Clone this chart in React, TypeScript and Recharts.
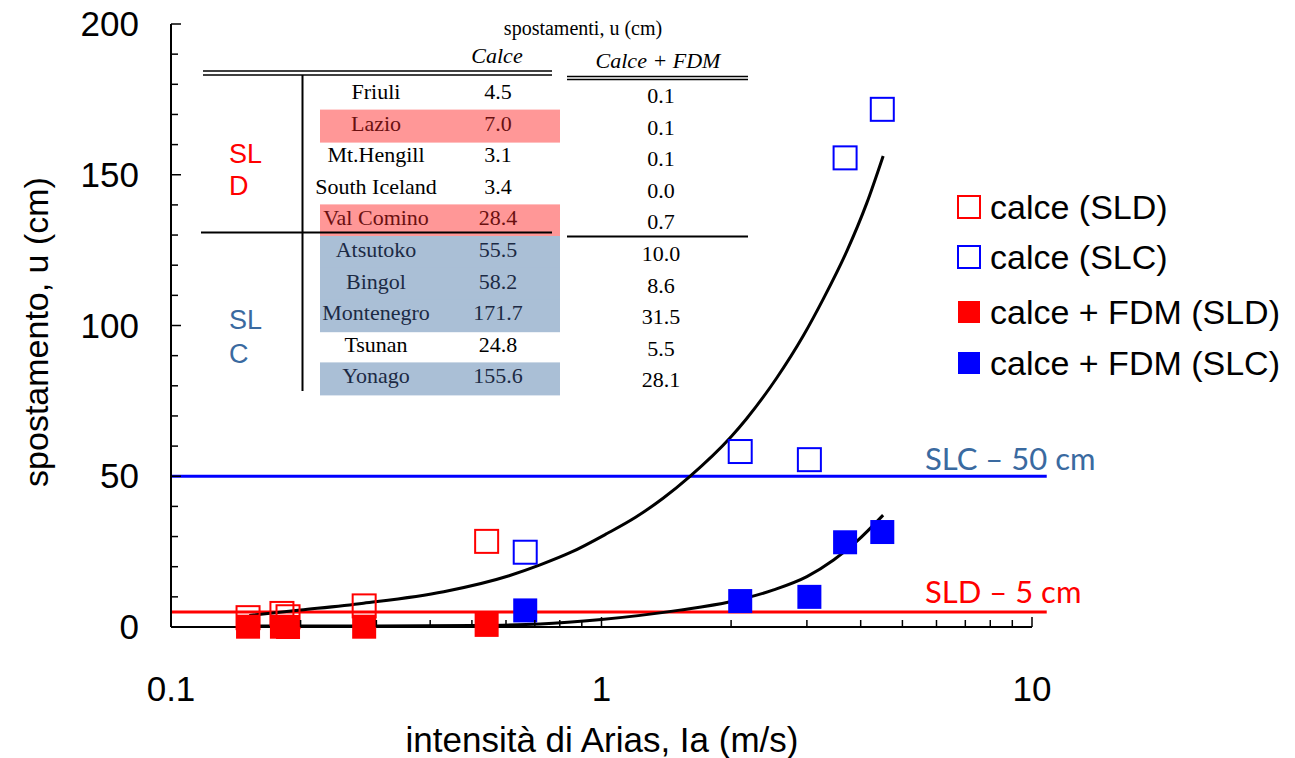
import React from 'react'
import { ComposedChart, XAxis, YAxis, Scatter, Line, ReferenceLine } from 'recharts'

document.body.style.margin = '0'

// dati della tabella (spostamenti, u in cm)
const siti = ['Friuli', 'Lazio', 'Mt.Hengill', 'South Iceland', 'Val Comino', 'Atsutoko', 'Bingol', 'Montenegro', 'Tsunan', 'Yonago']
const gruppo = ['SLD', 'SLD', 'SLD', 'SLD', 'SLD', 'SLC', 'SLC', 'SLC', 'SLC', 'SLC']
const evidenziato = [false, true, false, false, true, true, true, true, false, true]
const ariasIa = [0.181, 0.281, 0.151, 0.187, 0.541, 3.04, 2.1, 4.49, 0.665, 3.68]
const uCalce = [4.5, 7.0, 3.1, 3.4, 28.4, 55.5, 58.2, 171.7, 24.8, 155.6]
const uCalceFdm = [0.1, 0.1, 0.1, 0.0, 0.7, 10.0, 8.6, 31.5, 5.5, 28.1]

// curve di tendenza
const trendCalceIa = [0.152, 0.2, 0.28, 0.43, 0.61, 0.72, 0.85, 1.03, 1.2, 1.39, 1.6, 2.0, 2.17, 2.55, 2.94, 3.28, 3.71, 4.13, 4.51]
const trendCalceU = [3.8, 5.6, 7.9, 11.7, 17.0, 20.6, 24.8, 31.0, 36.4, 42.7, 49.8, 63.1, 69.0, 82.5, 96.5, 109, 124.5, 140.5, 156.2]
const trendFdmIa = [0.152, 0.3, 0.5, 0.72, 1.0, 1.52, 1.99, 2.51, 3.0, 3.46, 3.91, 4.51]
const trendFdmU = [0.3, 0.3, 0.5, 1.0, 2.5, 5.6, 8.4, 12.3, 16.7, 22.2, 28.3, 37.1]

// soglie
const sogliaSLD = 5
const sogliaSLC = 50
const sogliaFineIa = 10.82

const xTicks = [0.1, 0.2, 0.3, 0.4, 0.5, 0.6, 0.7, 0.8, 0.9, 1, 2, 3, 4, 5, 6, 7, 8, 9, 10]
const xLabels = [0.1, 1, 10]
const yTicks = [0, 10, 20, 30, 40, 50, 60, 70, 80, 90, 100, 110, 120, 130, 140, 150, 160, 170, 180, 190, 200]
const yLabels = [0, 50, 100, 150, 200]

const legendItems = [
  { label: 'calce (SLD)', color: '#ff0000', filled: false },
  { label: 'calce (SLC)', color: '#0000ff', filled: false },
  { label: 'calce + FDM (SLD)', color: '#ff0000', filled: true },
  { label: 'calce + FDM (SLC)', color: '#0000ff', filled: true },
]

const punti = (vals: number[], g: string) =>
  ariasIa.map((x, i) => ({ x, y: vals[i], g: gruppo[i] })).filter((d) => d.g === g)

const curva = (xs: number[], ys: number[]) => xs.map((x, i) => ({ x, y: ys[i] }))

const SANS = '"Liberation Sans", Arial, sans-serif'
const SERIF = '"Liberation Serif", "Times New Roman", serif'

function squareShape(color: string, filled: boolean) {
  return (props: any) => {
    const { cx, cy } = props
    if (cx == null || cy == null) return null
    const s = filled ? 24 : 23
    return (
      <rect
        x={cx - s / 2}
        y={cy - s / 2}
        width={s}
        height={s}
        fill={filled ? color : 'none'}
        stroke={color}
        strokeWidth={filled ? 0 : 2}
      />
    )
  }
}

function TickX(props: any) {
  const { x, y, payload } = props
  const major = xLabels.includes(payload.value)
  return (
    <g>
      <line x1={x} x2={x} y1={y} y2={y - (major ? 10 : 7)} stroke="#000" strokeWidth={1.5} />
      {major && (
        <text x={x} y={y + 74} textAnchor="middle" fontSize={35} fontFamily={SANS} fill="#000">
          {payload.value}
        </text>
      )}
    </g>
  )
}

function TickY(props: any) {
  const { x, y, payload } = props
  const major = yLabels.includes(payload.value)
  return (
    <g>
      <line x1={x} x2={x + (major ? 10 : 7)} y1={y} y2={y} stroke="#000" strokeWidth={1.5} />
      {major && (
        <text x={x - 32} y={y + 12} textAnchor="end" fontSize={35} fontFamily={SANS} fill="#000">
          {payload.value}
        </text>
      )}
    </g>
  )
}

function Tabella() {
  const rowY = (i: number) => 99 + i * 31.6
  return (
    <g>
      <text x={583} y={35} textAnchor="middle" fontSize={20} fontFamily={SERIF}>spostamenti, u (cm)</text>
      <text x={497} y={63} textAnchor="middle" fontSize={22} fontStyle="italic" fontFamily={SERIF}>Calce</text>
      <text x={658} y={68} textAnchor="middle" fontSize={22} fontStyle="italic" fontFamily={SERIF}>Calce + FDM</text>
      <line x1={203} x2={552} y1={71} y2={71} stroke="#000" strokeWidth={1.6} />
      <line x1={203} x2={552} y1={75} y2={75} stroke="#000" strokeWidth={1.6} />
      <line x1={567} x2={748} y1={76.5} y2={76.5} stroke="#000" strokeWidth={1.4} />
      <line x1={567} x2={748} y1={79.5} y2={79.5} stroke="#000" strokeWidth={1.4} />
      {siti.map((s, i) =>
        evidenziato[i] ? (
          <rect key={'bg' + s} x={320} y={rowY(i) - 21} width={240} height={33} fill={gruppo[i] === 'SLD' ? '#ff9797' : '#aabfd6'} />
        ) : null,
      )}
      <line x1={302.5} x2={302.5} y1={75} y2={391} stroke="#000" strokeWidth={2} />
      <line x1={201} x2={552} y1={232.5} y2={232.5} stroke="#000" strokeWidth={1.8} />
      <line x1={567} x2={748} y1={236.5} y2={236.5} stroke="#000" strokeWidth={1.8} />
      {siti.map((s, i) => {
        const c = !evidenziato[i] ? '#000' : gruppo[i] === 'SLD' ? '#6a1010' : '#1c2a44'
        return (
          <g key={s} fontFamily={SERIF} fontSize={22} textAnchor="middle">
            <text x={376} y={rowY(i)} fill={c}>{s}</text>
            <text x={498} y={rowY(i)} fill={c}>{uCalce[i].toFixed(1)}</text>
            <text x={661} y={rowY(i) + 4} fill="#000">{uCalceFdm[i].toFixed(1)}</text>
          </g>
        )
      })}
      <g fontFamily={SANS} fontSize={27}>
        <text x={229} y={163} fill="#ff0000">SL</text>
        <text x={229} y={195} fill="#ff0000">D</text>
        <text x={229} y={329} fill="#3a6aa0">SL</text>
        <text x={229} y={363} fill="#3a6aa0">C</text>
      </g>
    </g>
  )
}

export default function App() {
  return (
    <div style={{ position: 'relative', width: 1295, height: 758, background: '#fff' }}>
      <ComposedChart width={1295} height={758} margin={{ top: 24, right: 263, bottom: 0, left: 0 }}>
        <XAxis
          dataKey="x"
          type="number"
          scale="log"
          domain={[0.1, 10]}
          ticks={xTicks}
          interval={0}
          allowDataOverflow
          height={131}
          tickSize={0}
          tickMargin={0}
          tick={<TickX />}
          axisLine={{ stroke: '#000', strokeWidth: 2 }}
        />
        <YAxis
          dataKey="y"
          type="number"
          domain={[0, 200]}
          ticks={yTicks}
          interval={0}
          width={171}
          tickSize={0}
          tickMargin={0}
          tick={<TickY />}
          axisLine={{ stroke: '#000', strokeWidth: 2 }}
        />
        <ReferenceLine
          segment={[{ x: 0.1, y: sogliaSLC }, { x: sogliaFineIa, y: sogliaSLC }]}
          stroke="#0000ff"
          strokeWidth={3}
          ifOverflow="visible"
        />
        <ReferenceLine
          segment={[{ x: 0.1, y: sogliaSLD }, { x: sogliaFineIa, y: sogliaSLD }]}
          stroke="#ff0000"
          strokeWidth={3}
          ifOverflow="visible"
        />
        <Scatter data={punti(uCalce, 'SLD')} dataKey="y" shape={squareShape('#ff0000', false)} isAnimationActive={false} />
        <Scatter data={punti(uCalce, 'SLC')} dataKey="y" shape={squareShape('#0000ff', false)} isAnimationActive={false} />
        <Scatter data={punti(uCalceFdm, 'SLD')} dataKey="y" shape={squareShape('#ff0000', true)} isAnimationActive={false} />
        <Scatter data={punti(uCalceFdm, 'SLC')} dataKey="y" shape={squareShape('#0000ff', true)} isAnimationActive={false} />
        <Line data={curva(trendCalceIa, trendCalceU)} dataKey="y" type="monotone" stroke="#000" strokeWidth={3} dot={false} isAnimationActive={false} />
        <Line data={curva(trendFdmIa, trendFdmU)} dataKey="y" type="monotone" stroke="#000" strokeWidth={3} dot={false} isAnimationActive={false} />
      </ComposedChart>
      <svg width={1295} height={758} style={{ position: 'absolute', left: 0, top: 0, pointerEvents: 'none' }}>
        <Tabella />
        <text x={925} y={470} fontSize={31} fontFamily="Lato, sans-serif" fill="#3a6aa0">SLC – 50 cm</text>
        <text x={925} y={603} fontSize={31} fontFamily="Lato, sans-serif" fill="#ff0000">SLD – 5 cm</text>
        {legendItems.map((it, i) => {
          const cy = [207, 257, 312, 363][i]
          return (
            <g key={it.label}>
              <rect x={958} y={cy - 11} width={22} height={22} fill={it.filled ? it.color : 'none'} stroke={it.color} strokeWidth={it.filled ? 0 : 2} />
              <text x={990} y={cy + 12} fontSize={34} fontFamily={SANS} fill="#000">{it.label}</text>
            </g>
          )
        })}
        <text x={602} y={752} textAnchor="middle" fontSize={35} fontFamily={SANS} fill="#000">intensità di Arias, Ia (m/s)</text>
        <text transform="translate(48,332) rotate(-90)" textAnchor="middle" fontSize={34} fontFamily={SANS} fill="#000">spostamento, u (cm)</text>
      </svg>
    </div>
  )
}
